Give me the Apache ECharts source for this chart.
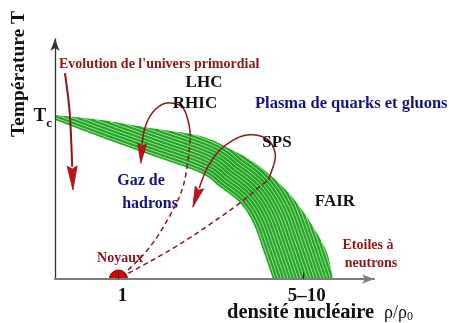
<!DOCTYPE html>
<html>
<head>
<meta charset="utf-8">
<script src="https://cdn.jsdelivr.net/npm/echarts@6/dist/echarts.min.js"></script>
<style>
  html, body { margin: 0; padding: 0; background: #fff; }
  #chart { width: 449px; height: 323px; }
</style>
</head>
<body>
<div id="chart"></div>
<script>
// Schematic phase diagram of strongly interacting matter:
// temperature against nuclear density, both on a 0–100 schematic scale.

const xTickValues = [19.9, 77.7];
const xTickLabels = ['1', '5–10'];
const yTickValues = [67.5];            // critical temperature T_c

// Transition band: upper (outer) and lower (inner) boundaries
const bandOuter = [[0, 68.3], [14.1, 66.3], [29.8, 62.9], [45.5, 59.6], [55.5, 53.8], [63.6, 47.5],
                   [71.5, 38.3], [76.8, 30.0], [81.5, 20.4], [85.3, 10.8], [87.1, 0]];
const bandInner = [[0, 66.3], [14.1, 59.2], [29.8, 51.7], [45.5, 44.2], [51.7, 38.3], [58.0, 31.7],
                   [62.1, 23.3], [65.2, 12.1], [68.3, 0]];

// Cooling of the early universe
const evolutionPath = [[3.13, 85.8], [4.70, 67.5], [5.64, 37.1]];
// RHIC / LHC collisions: compression (dashed) then expansion into the hadron gas
const rhicDashed = [[22.9, 3.75], [27.6, 10.0], [32.0, 17.5], [37.0, 28.8], [40.1, 38.3], [41.7, 49.6], [42.5, 59.3]];
const rhicSolid = [[42.5, 59.3], [41.8, 65.5], [40.2, 71.1], [37.1, 73.2], [33.9, 72.9], [30.8, 69.7],
                   [28.7, 64.9], [27.5, 58.6], [26.9, 48.2]];
// SPS collisions
const spsDashed = [[23.0, 2.4], [28.7, 6.5], [37.1, 12.9], [45.5, 20.0], [55.9, 29.6], [61.1, 35.0],
                   [63.6, 37.9], [66.9, 41.25]];
const spsSolid = [[66.9, 41.25], [68.7, 48.2], [69.0, 52.4], [67.4, 57.2], [64.3, 59.6], [60.1, 60.0],
                  [55.9, 57.9], [51.7, 53.75], [48.6, 48.2], [46.5, 42.6], [43.2, 29.9]];
// Ordinary nuclei
const nucleiPoint = [19.9, 0];

const SERIF = '"Liberation Serif", "Times New Roman", serif';
const GREEN = '#21a621';
const DARK_RED = '#8e1518';
const HEAD_RED = '#c01318';
const BLUE = '#14147f';

// Catmull-Rom smoothing through pixel points
function spline(pts, steps) {
  const out = [];
  for (let i = 0; i < pts.length - 1; i++) {
    const p0 = pts[Math.max(i - 1, 0)], p1 = pts[i], p2 = pts[i + 1], p3 = pts[Math.min(i + 2, pts.length - 1)];
    for (let s = 0; s < steps; s++) {
      const t = s / steps, t2 = t * t, t3 = t2 * t;
      out.push([0, 1].map(k => 0.5 * (2 * p1[k] + (-p0[k] + p2[k]) * t +
        (2 * p0[k] - 5 * p1[k] + 4 * p2[k] - p3[k]) * t2 +
        (-p0[k] + 3 * p1[k] - 3 * p2[k] + p3[k]) * t3)));
    }
  }
  out.push(pts[pts.length - 1].slice());
  return out;
}

function inside(pt, vs) {
  const x = pt[0], y = pt[1];
  let c = false;
  for (let i = 0, j = vs.length - 1; i < vs.length; j = i++) {
    const xi = vs[i][0], yi = vs[i][1], xj = vs[j][0], yj = vs[j][1];
    if (((yi > y) !== (yj > y)) && (x < (xj - xi) * (y - yi) / (yj - yi) + xi)) c = !c;
  }
  return c;
}

// Straight continuation of a curve past its end, used only to guide the hatching
function extend(curve, len, step) {
  const n = curve.length;
  const a = curve[n - 4], b = curve[n - 1];
  let tx = b[0] - a[0], ty = b[1] - a[1];
  const L = Math.hypot(tx, ty) || 1;
  tx /= L; ty /= L;
  const out = curve.slice();
  for (let s = step; s <= len; s += step) out.push([b[0] + tx * s, b[1] + ty * s]);
  return out;
}

// Green band hatched with thin white lines running along the lower boundary
function renderBand(params, api) {
  const outer = spline(bandOuter.map(p => api.coord(p)), 30);
  const inner = spline(bandInner.map(p => api.coord(p)), 30);
  const poly = outer.concat(inner.slice().reverse());
  const children = [{ type: 'polygon', shape: { points: poly }, style: { fill: GREEN } }];
  const guide = extend(extend(inner, 40, 1).reverse(), 20, 1).reverse();
  const normals = guide.map((p, i) => {
    const a = guide[Math.max(i - 2, 0)], b = guide[Math.min(i + 2, guide.length - 1)];
    let tx = b[0] - a[0], ty = b[1] - a[1];
    const L = Math.hypot(tx, ty) || 1;
    tx /= L; ty /= L;
    return [ty, -tx];
  });
  const spacing = 3.1;
  for (let k = 1; k < 30; k++) {
    const d = k * spacing - 1.0;
    let run = [];
    const flush = () => {
      if (run.length > 1) {
        children.push({ type: 'polyline', shape: { points: run },
          style: { stroke: 'rgba(255,255,255,0.78)', lineWidth: 0.8, fill: 'none' } });
      }
      run = [];
    };
    guide.forEach((p, i) => {
      const q = [p[0] + normals[i][0] * d, p[1] + normals[i][1] * d];
      if (inside(q, poly)) run.push(q); else flush();
    });
    flush();
  }
  return { type: 'group', children };
}

// A smoothed trajectory, optionally dashed and ending in an arrow head
function trajectory(api, data, opts) {
  const pts = spline(data.map(p => api.coord(p)), 16);
  const children = [];
  let linePts = pts;
  if (opts.head) {
    const tip = pts[pts.length - 1];
    let acc = 0, i = pts.length - 1;
    while (i > 0 && acc < opts.head.len) {
      acc += Math.hypot(pts[i][0] - pts[i - 1][0], pts[i][1] - pts[i - 1][1]);
      i--;
    }
    const back = pts[i];
    let ux = tip[0] - back[0], uy = tip[1] - back[1];
    const L = Math.hypot(ux, uy) || 1;
    ux /= L; uy /= L;
    const bx = tip[0] - ux * opts.head.len, by = tip[1] - uy * opts.head.len;
    const w = opts.head.width / 2;
    children.push({
      type: 'polygon', z2: 2,
      shape: { points: [tip, [bx - uy * w, by + ux * w], [bx + ux * 3, by + uy * 3], [bx + uy * w, by - ux * w]] },
      style: { fill: HEAD_RED, stroke: DARK_RED, lineWidth: 0.8 }
    });
    linePts = pts.slice(0, i + 2);
  }
  children.push({
    type: 'polyline', z2: 1, shape: { points: linePts },
    style: { stroke: DARK_RED, lineWidth: opts.width || 1.5, fill: 'none',
             lineDash: opts.dashed ? [5, 3.5] : null }
  });
  return children;
}

function renderPaths(params, api) {
  const children = [].concat(
    trajectory(api, evolutionPath, { width: 2, head: { len: 24, width: 10 } }),
    trajectory(api, rhicDashed, { dashed: true }),
    trajectory(api, rhicSolid, { head: { len: 20, width: 9 } }),
    trajectory(api, spsDashed, { dashed: true }),
    trajectory(api, spsSolid, { head: { len: 21, width: 9 } })
  );
  return { type: 'group', children };
}

function renderNuclei(params, api) {
  const c = api.coord(nucleiPoint);
  return {
    type: 'sector',
    shape: { cx: c[0], cy: c[1], r0: 0, r: 9, startAngle: Math.PI, endAngle: 2 * Math.PI, clockwise: true },
    style: { fill: '#dc0000', stroke: '#7a0000', lineWidth: 1 }
  };
}

function txt(x, y, text, size, color, weight, align) {
  return {
    type: 'text', x, y, z: 100, silent: true,
    style: {
      text, fill: color, align: align || 'center', verticalAlign: 'middle',
      font: (weight || 'bold') + ' ' + size + 'px ' + SERIF
    }
  };
}

const chart = echarts.init(document.getElementById('chart'), null, { renderer: 'canvas' });
chart.setOption({
  animation: false,
  backgroundColor: '#fff',
  grid: { left: 55, right: 75, top: 39, bottom: 44, containLabel: false, outerBoundsMode: 'none' },
  xAxis: {
    type: 'value', min: 0, max: 100, z: 10,
    axisLine: { show: true, symbol: ['none', 'arrow'], symbolSize: [7, 12],
                lineStyle: { color: '#7d7d7d', width: 2 } },
    axisTick: { show: true, inside: true, length: 7, customValues: xTickValues,
                lineStyle: { color: '#222', width: 1 } },
    axisLabel: {
      customValues: xTickValues, margin: 8, padding: [0, 0, 0, 8],
      formatter: v => {
        let best = 0;
        xTickValues.forEach((t, i) => { if (Math.abs(t - v) < Math.abs(xTickValues[best] - v)) best = i; });
        return xTickLabels[best];
      },
      color: '#111', fontFamily: SERIF, fontWeight: 'bold', fontSize: 19
    },
    splitLine: { show: false }
  },
  yAxis: {
    type: 'value', min: 0, max: 100, z: 10,
    axisLine: { show: true, symbol: ['none', 'arrow'], symbolSize: [7, 12],
                lineStyle: { color: '#333', width: 1.3 } },
    axisTick: { show: false },
    axisLabel: {
      customValues: yTickValues, margin: 3,
      formatter: () => '{t|T}{c|c}',
      rich: {
        t: { fontFamily: SERIF, fontWeight: 'bold', fontSize: 19, color: '#111', lineHeight: 20, verticalAlign: 'top' },
        c: { fontFamily: SERIF, fontWeight: 'bold', fontSize: 13, color: '#111', lineHeight: 13, verticalAlign: 'bottom', padding: [0, 0, -3, 0] }
      }
    },
    splitLine: { show: false }
  },
  series: [
    { type: 'custom', renderItem: renderBand, data: [[0, 0]], z: 1, silent: true, clip: false },
    { type: 'custom', renderItem: renderPaths, data: [[0, 0]], z: 2, silent: true, clip: false },
    { type: 'custom', renderItem: renderNuclei, data: [nucleiPoint], z: 3, silent: true, clip: false }
  ],
  graphic: { elements: [
    {
      type: 'text', x: 19, y: 74, rotation: Math.PI / 2, z: 100, silent: true,
      style: { text: 'Température T', fill: '#111', align: 'center', verticalAlign: 'middle',
               font: 'bold 19.5px ' + SERIF }
    },
    {
      type: 'text', x: 227, y: 313, z: 100, silent: true,
      style: {
        text: '{a|densité nucléaire}{b|ρ/ρ}{c|0}', align: 'left', verticalAlign: 'middle',
        rich: {
          a: { font: 'bold 20.5px ' + SERIF, fill: '#111' },
          b: { font: '18px ' + SERIF, fill: '#111', padding: [0, 0, 0, 10] },
          c: { font: '12px ' + SERIF, fill: '#111', padding: [8, 0, 0, 0] }
        }
      }
    },
    txt(59, 64, "Evolution de l'univers primordial", 14, DARK_RED, 'bold', 'left'),
    txt(204, 83, 'LHC', 17, '#111'),
    txt(195, 104, 'RHIC', 17, '#111'),
    txt(255, 104, 'Plasma de quarks et gluons', 16.5, BLUE, 'bold', 'left'),
    txt(277, 143, 'SPS', 17, '#111'),
    txt(141, 181, 'Gaz de', 16, BLUE),
    txt(150, 204, 'hadrons', 16, BLUE),
    txt(335, 202, 'FAIR', 17, '#111'),
    txt(368, 245, 'Etoiles à', 14, DARK_RED),
    txt(371, 263, 'neutrons', 14, DARK_RED),
    txt(120, 258, 'Noyaux', 14, DARK_RED)
  ] }
});
</script>
</body>
</html>
